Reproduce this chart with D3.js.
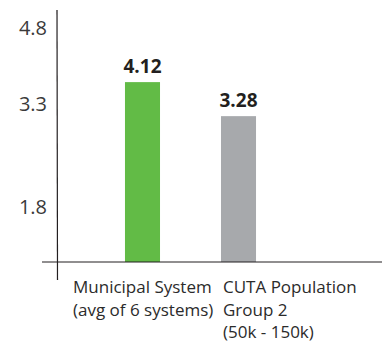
<!DOCTYPE html>
<html>
<head>
<meta charset="utf-8">
<script src="https://cdn.jsdelivr.net/npm/d3@7"></script>
<style>
  body { margin: 0; background: #fff; }
  svg { font-family: "Open Sans", "Noto Sans", sans-serif; }
</style>
</head>
<body>
<div id="chart"></div>
<script>
// chart data
var categories = ["Municipal System", "CUTA Population"];
var labelLines = [
  ["Municipal System", "(avg of 6 systems)"],
  ["CUTA Population", "Group 2", "(50k - 150k)"]
];
var values = [4.12, 3.28];
var barColors = ["#62bb46", "#a7a9ac"];
var tickLabels = [4.8, 3.3, 1.8];

function main()
{
  var svgWidth = 382;
  var svgHeight = 345;
  var margin = { top: 10, left: 57, bottom: 83, right: 6 };
  var width = svgWidth - margin.left - margin.right;
  var height = svgHeight - margin.top - margin.bottom;

  var svg = d3.select("#chart").append("svg")
    .attr("width", svgWidth)
    .attr("height", svgHeight);

  var g = svg.append("g")
    .attr("transform", "translate(" + margin.left + "," + margin.top + ")");

  // bar scale
  var xScale = d3.scaleBand().domain(categories)
    .range([0, 267]).paddingInner(0.635).paddingOuter(0.708);
  var yScale = d3.scaleLinear().domain([-0.32, 5.9]).range([height, 0]);

  // the tick labels of the original sit at their own spots
  var tickScale = d3.scaleLinear().domain([1.8, 3.3, 4.8])
    .range([height * 0.78, height * 0.373, height * 0.071]);

  // column for the category labels
  var labelX = d3.scaleBand().domain(categories).range([16, 316]);

  // bars
  g.selectAll(".bar")
    .data(values)
    .enter()
    .append("rect")
    .attr("class", "bar")
    .attr("x", function(d, i) { return xScale(categories[i]); })
    .attr("y", function(d) { return yScale(d); })
    .attr("width", xScale.bandwidth())
    .attr("height", function(d) { return height - yScale(d); })
    .attr("fill", function(d, i) { return barColors[i]; });

  // value labels
  g.selectAll(".val")
    .data(values)
    .enter()
    .append("text")
    .attr("x", function(d, i) { return xScale(categories[i]) + xScale.bandwidth() / 2; })
    .attr("y", function(d) { return yScale(d) - 9; })
    .attr("text-anchor", "middle")
    .attr("font-size", "19px")
    .attr("font-weight", "bold")
    .attr("fill", "#231f20")
    .text(function(d) { return d.toFixed(2); });

  // y tick labels
  g.selectAll(".tick-label")
    .data(tickLabels)
    .enter()
    .append("text")
    .attr("x", -10)
    .attr("y", function(d) { return tickScale(d); })
    .attr("dy", "0.36em")
    .attr("text-anchor", "end")
    .attr("font-size", "20px")
    .attr("fill", "#3a3a3a")
    .text(function(d) { return d.toFixed(1); });

  // axis lines
  g.append("line")
    .attr("x1", 0).attr("x2", 0.5)
    .attr("y1", 0).attr("y2", height + 18)
    .attr("stroke", "#231f20").attr("stroke-width", 1.2);
  g.append("line")
    .attr("x1", -15).attr("x2", width + 13)
    .attr("y1", height).attr("y2", height)
    .attr("stroke", "#231f20").attr("stroke-width", 1.2);

  // category labels
  var cat = g.selectAll(".cat")
    .data(labelLines)
    .enter()
    .append("text")
    .attr("font-size", "17px")
    .attr("fill", "#2b2b2b");
  cat.selectAll("tspan")
    .data(function(d, i) { return d.map(function(t) { return { t: t, i: i }; }); })
    .enter()
    .append("tspan")
    .attr("x", function(d) { return labelX(categories[d.i]); })
    .attr("y", function(d, j) { return height + 31 + j * 22.5; })
    .text(function(d) { return d.t; });
}
main();
</script>
</body>
</html>
